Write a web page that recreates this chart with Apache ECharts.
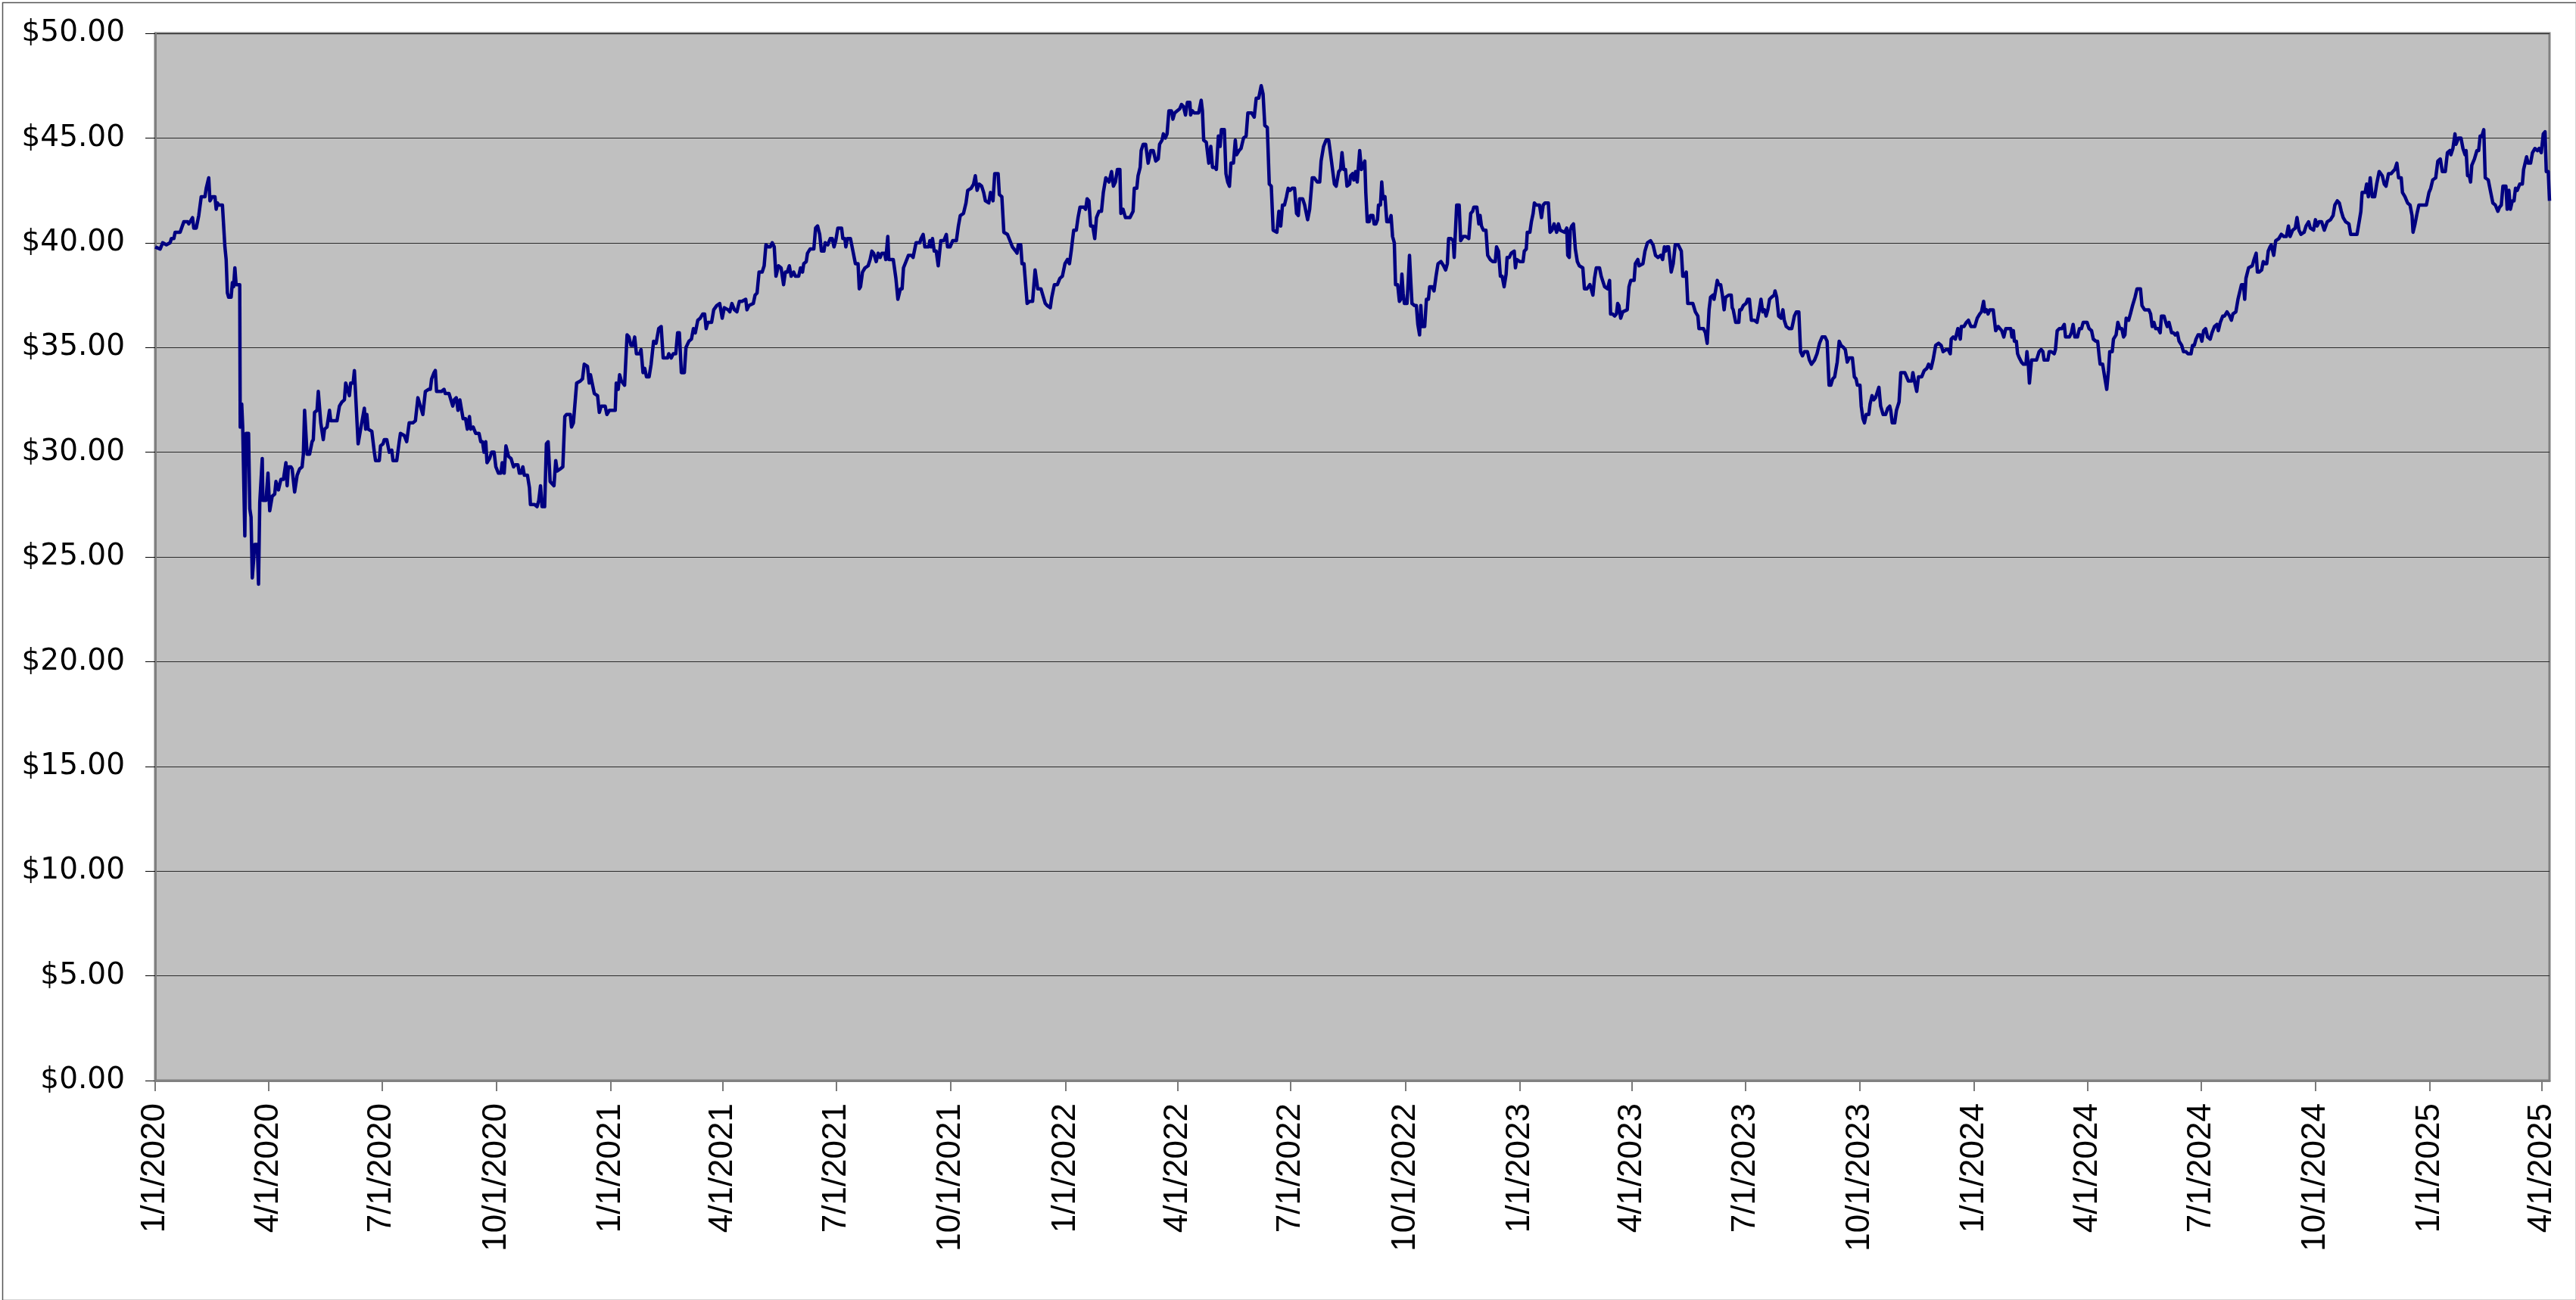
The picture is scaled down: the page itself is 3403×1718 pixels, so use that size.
<!DOCTYPE html>
<html>
<head>
<meta charset="utf-8">
<script src="https://cdn.jsdelivr.net/npm/echarts@6/dist/echarts.min.js"></script>
<style>
  html, body { margin: 0; padding: 0; background: #ffffff; }
  #chart { width: 3403px; height: 1718px; }
</style>
</head>
<body>
<div id="chart"></div>
<script>
// ---- data ----
const startDate = '1/1/2020';   // day 0 of the axis
const lastDay = 1923;           // last trading day shown (4/7/2025)

const tickLabels = ['1/1/2020','4/1/2020','7/1/2020','10/1/2020',
  '1/1/2021','4/1/2021','7/1/2021','10/1/2021',
  '1/1/2022','4/1/2022','7/1/2022','10/1/2022',
  '1/1/2023','4/1/2023','7/1/2023','10/1/2023',
  '1/1/2024','4/1/2024','7/1/2024','10/1/2024',
  '1/1/2025','4/1/2025'];

const yTicks = [0, 5, 10, 15, 20, 25, 30, 35, 40, 45, 50];

// days since 1/1/2020
const dayOffsets = [
  0,4,6,9,12,13,15,16,20,23,
  26,27,30,31,33,35,37,40,41,43,
  44,46,48,49,50,51,54,56,57,58,
  59,61,62,63,64,65,67.9,68.3,69.5,70.3,
  72,73,75,76,77,78,80,82,83,84,
  86,86.5,89,90.6,92,94,96,97,99,101,
  103,105,106,107,109,110,112,114,116,118,
  119,120,122,124,126,127,128,130,131,133,
  135,136,138,140,141,146,148,150,152,153,
  156,157,159,160,163,165,166,168,169,170,
  171,174,175,176,177,180,181,183,184,186,
  188,190,191,194,196,197,200,202,204,207,
  209,211,213,215,217,219.5,221,222,224,225,
  226,230,232,233,236,239,
  240.2,241.8,243.2,244.7,245.9,247.3,249.3,250.7,252.4,253.4,
  254.4,255.4,257.4,260.1,261.5,262.9,264.1,265.5,266.5,268.6,
  270.2,272.2,273.6,275.7,277.7,278.7,280.3,281.7,283.8,285.8,
  287.8,289.2,291.3,292.5,293.9,295.3,296.5,299,300.6,301.4,
  304.7,306.7,308.1,309.5,310.7,312.8,314.2,315.6,317.2,320.3,
  321.7,322.9,325.3,327.4,329,330.4,333.4,334.4,335.9,338.5,
  341.5,343.2,344.6,347.2,348.6,349.6,351.3,352.7,355.3,356.7,
  358.2,361.4,362.8,364.8,369.5,370.3,371.9,373,374.4,377,
  379,380.5,382.1,383.7,385.1,386.5,389.2,390.2,391.8,393.2,
  394.6,396.7,398.3,400.3,402.3,404.4,406.4,408,411.5,412.5,
  414.5,416.1,418.1,419.6,421,422.6,425,426.3,428.7,430.7,
  432.3,433.8,435.8,437.8,439.8,441.3,442.5,443.9,446.9,448.6,
  451,453.4,455.4,457.1,460.1,461.5,463.2,465.2,467.2,469.2,
  471.3,474.3,475.3,476.9,480.4,481.8,483.4,
  485,487.5,489.1,490.5,492.5,494,495.6,497.2,498.6,500.6,
  502.7,504.7,506.1,507.7,509.3,510.8,512.8,514.2,516.8,518.3,
  519.9,520.9,522.9,523.9,526,529,530.4,532,533.7,535.1,
  537.1,538.1,540.2,542.2,543.8,545.2,546.6,548.3,551.3,552.3,
  553.9,554.7,556,558.4,560.4,562.4,564.5,565.5,566.5,568.1,
  570.1,572.6,574.2,575.6,577,579.1,580.7,582.3,583.7,585.8,
  586.8,588.4,589.2,592.8,594.9,596.5,598.5,599.9,601,603,
  605,607.4,608.7,611.1,614.1,615.1,616.8,618.2,621.2,622.2,
  623.2,624.3,625.7,627.3,628.9,631,633.4,635.4,636.4,638.4,
  640.5,643.5,645.1,646.6,649.2,651.2,652.6,655.3,657.3,658.7,
  660.1,661.8,663.8,665.4,666.8,669.5,670.9,672.9,674.3,677,
  678,680,681.6,684.5,686.5,688.5,691.1,692.2,693.2,695.2,
  696.2,697.8,700.3,702.3,704.7,706.7,708.8,711.4,713.4,714.9,
  716.5,718.9,720.1,722.2,724.6,726.6,
  728.6,730.7,732.7,734.3,735.7,737.7,739.8,741.2,742.8,745.9,
  747.3,748.5,749.9,751.3,753,754.6,756,758,760,761.5,
  763.5,766.1,768.1,769.6,771.2,772.8,774.8,775.6,777.3,779.3,
  782.9,785.4,786.4,788.4,789.4,791.1,791.9,793.5,795.5,797.5,
  799.6,801.6,803.6,805.6,806.7,808.7,809.7,811.3,812.7,814.2,
  816.2,817.4,818.8,820.8,822.9,824.3,825.9,827.5,829,831,
  831.6,833,834.4,838.1,840.1,841.1,842.1,844.2,846.2,847.8,
  849.2,851.2,852.3,853.9,855.3,856.3,858.7,860,861.4,862.8,
  864,866,867.5,868.5,870.5,872.1,874.1,876.2,877.6,880.6,
  882.7,884.3,886.3,888.3,889.8,891.2,893.2,894.8,896.4,897.9,
  900.9,902.5,904,905.4,907,908.6,910,911.4,913.1,915.1,
  916.7,918.1,919.1,921.6,923.2,924.2,925.6,927.2,929.3,930.9,
  933.3,935.3,936.4,938.4,940.4,942.5,944.5,945.5,947.1,948.5,
  950.6,952,953.2,954.6,956,957.2,959.3,960.1,961.7,962.7,
  964.1,965.4,967.4,968.8,969.9,
  971.5,972.3,973.5,975,976,978,979,980.4,981.7,982.5,
  984.1,985.1,986.1,987.7,989.2,991.2,992.6,993.8,995.2,996.2,
  997.9,999.3,1000.3,1001.3,1002.3,1003.3,1005.4,1006.4,1007.4,1008.4,
  1009.4,1011.4,1012.9,1014.1,1015.5,1016.5,1017.5,1019.6,1021,1022.6,
  1023.6,1025.6,1027.1,1028.7,1030.3,1032.7,1034.8,1036.4,1037.8,1038.8,
  1040.8,1042.5,1043.3,1044.5,1045.3,1047.3,1048.5,1050.6,1052.6,1055,
  1056.6,1058.1,1059.1,1061.5,1063.1,1064.1,1065.2,1066.8,1068.8,1070.2,
  1072.2,1074.3,1076.3,1077.3,1078.9,1080.4,1081.8,1083.4,1085,1085.8,
  1087.5,1089.1,1091.5,1092.5,1093.5,1096,1098.6,1099.6,1101.2,1102,
  1104.1,1105.3,1106.7,1107.7,1109.3,1111.8,1113.4,1114.8,1116.2,1118.9,
  1120.3,1121.9,1123.5,1125.6,1127,1128.4,1132,1133.7,1134.5,1135.7,
  1136.5,1137.7,1139.1,1140.6,1142.2,1143.8,1146.6,1147.9,1149.9,1152.3,
  1153.3,1154.7,1156,1157.4,1160,1161.4,1162.4,1164.1,1166.5,1168.1,
  1168.9,1170.5,1172.2,1173.6,1174.6,1175.6,1177,1178.7,1182.3,1183.7,
  1185.1,1187.8,1188.8,1190.8,1191.8,1194.9,1196.5,1198.5,1201,1203,
  1205,1207,1209.1,1210.7,1212.1,1213.1,
  1214.1,1215.5,1217.6,1219.2,1220.8,1223.2,1225.7,1226.9,1228.3,1229.7,
  1230.9,1232.4,1235,1237,1239,1239.9,1243.5,1245.1,1246.5,1248,
  1249.2,1251.2,1252,1253.2,1254.6,1255.7,1257.3,1258.7,1260.1,1261.3,
  1263.8,1265.8,1266.6,1267.4,1269.4,1271.9,1272.6,1273.9,1275.5,1277.6,
  1279,1280.4,1282,1284.4,1286.5,1288.1,1289.7,1291.1,1292.5,1293.8,
  1295.2,1296.6,1298.2,1300.3,1301,1302.3,1303.9,1305.9,1307.3,1308.4,
  1310,1312.4,1314.4,1315.5,1316.5,1318.1,1320.1,1321.5,1323,1324.6,
  1327,1328.6,1330.2,1332.7,1334.7,1336.7,1338.8,1341.2,1342.8,1344.4,
  1345.8,1347.3,1348.9,1350.9,1352.5,1354,1356,1357.4,1359,1360.6,
  1363.1,1364.7,1366.1,1367.1,1369.2,1370.2,1371.6,1372.8,1374.2,1376.3,
  1377.3,1378.9,1380.3,1381.7,1382.9,1384.4,1385.8,1387.8,1389.8,1391.5,
  1393.1,1393.9,1395.1,1397.1,1398.5,1400.6,1402,1403.6,1405.2,1408.1,
  1410.7,1411.7,1413.3,1414.8,1416.2,1418.8,1420.8,1422.9,1424.3,1426.3,
  1427.9,1430,1432.4,1434.4,1436,1438.5,1440.1,1441.7,1442.5,1444.1,
  1445.8,1447.8,1449.8,1450.6,1452.7,1454.7,1456.3,
  1458.3,1461.4,1463.4,1465.4,1466.8,1468.5,1469.5,1470.9,1472.1,1473.5,
  1476.2,1478.2,1480.2,1481.6,1483.1,1484.7,1486.3,1488.7,1490.3,1491.2,
  1492.4,1493.2,1494.8,1495.8,1497.2,1498.9,1500.5,1502.5,1503.3,1504.5,
  1505.3,1507,1509.4,1511,1513.1,1514.7,1516.1,1517.1,1520.1,1521.2,
  1522.8,1525.2,1526.2,1527.6,1529.3,1531.3,1533.3,1534.3,1537.4,1539,
  1540.4,1541.8,1543.9,1545.5,1547.1,1548.5,1551.6,1553.2,1555.2,1556.6,
  1558.7,1560.1,1561.3,1562.1,1564.1,1565.7,1567.4,1568.8,1569.8,1571.8,
  1572.8,1574.9,1576.3,1577.9,1579.5,1580.9,1582,1583,1585,1586.4,
  1588.1,1590.1,1591.7,1594.5,1595.7,1597.8,1601.2,1602.6,1603.9,1605.3,
  1606.7,1608.7,1610.3,1611.3,1613.4,1614.8,1616,1617.4,1618.4,1619.5,
  1620.9,1622.5,1624.1,1625.5,1627.6,1629,1631,1632.6,1635.1,1636.3,
  1637.7,1639.1,1640.7,1642.4,1643.8,1645.2,1646.8,1648.4,1650.5,1651.9,
  1653.9,1655.9,1657,1658.6,1660.6,1662,1664,1666.1,1667.5,1668.7,
  1671.1,1672.8,1674.8,1675.6,1677.2,1678.2,1679.2,1681.3,1684.3,1685.7,
  1687.4,1688.4,1689.8,1691.8,1693.1,1694.5,1695.9,1697.1,1698.5,1699.5,
  1701.5,1703.1,1705.6,1707.6,1709.6,1711.7,1713.3,1714.7,1716.7,1718.8,
  1720.2,1721.8,1723.4,1725.9,1727.5,1729.5,1730.9,1733.5,1735,1736.4,
  1738,1740,1742.1,1744.5,1747.1,1749.2,1750.6,1752.6,1754.2,1755.8,
  1757.3,1759.3,1761.9,1763.3,1765.4,1768.4,1770.4,1771.5,1772.5,1774.9,
  1776.1,1777.5,1779,1780.6,1782.6,1784.2,1786.2,1788.7,1790.3,1791.7,
  1793.7,1795.8,1797.2,1798.8,1800.4,1801.8,1803.9,1804.9,1806.9,1809,
  1811,1812.6,1813.4,1815,1816.6,1818.1,1820.7,1824.1,1826.2,1827.6,
  1829.2,1831.6,1833.3,1835.3,1836.9,1839.3,1841,1843,1843.8,1845.4,
  1847.1,1847.9,1849.9,1851.9,1853.5,1855.2,1856,1857.2,1858.6,1859.6,
  1860.6,1862.7,1864.7,1866.1,1867.3,1868.7,1870.2,1871.4,1873.8,1875.8,
  1877.5,1879.5,1881.5,1882.9,1884.3,1885.6,1888,1889,1890.4,1891.6,
  1893.1,1894.5,1895.7,1897.1,1899.1,1901.2,1902.2,1903.2,1904.6,1905.8,
  1907.8,1909.3,1911.3,1913.3,1914.7,1916.4,1918,1919.4,1920.4,1922,
  1923
];

// closing price, $
const closePrices = [
  39.8,39.7,40.0,39.9,40.0,40.2,40.2,40.5,40.5,41.0,
  41.0,40.9,41.2,40.7,40.7,41.3,42.2,42.2,42.6,43.1,
  42.0,42.2,42.2,41.6,41.9,41.8,41.8,39.8,39.2,37.6,
  37.4,37.4,38.1,37.9,38.8,38.0,38.0,31.2,32.3,31.2,
  26.0,30.9,30.9,27.3,26.9,24.0,25.6,25.6,23.7,27.6,
  29.7,27.7,27.7,29.0,27.2,27.9,28.0,28.6,28.2,28.7,
  28.7,29.5,28.4,29.3,29.3,29.2,28.1,28.9,29.2,29.3,
  29.9,32.0,29.9,29.9,30.5,30.6,31.9,32.0,32.9,31.4,
  30.6,31.1,31.2,32.0,31.5,31.5,32.2,32.4,32.5,33.3,
  32.7,33.3,33.3,33.9,30.4,31.1,31.1,32.1,31.1,31.8,
  31.1,31.0,30.5,30.0,29.6,29.6,30.3,30.4,30.6,30.6,
  30.0,30.1,29.6,29.6,30.5,30.9,30.8,30.5,31.4,31.4,
  31.5,32.6,32.2,31.8,32.9,33.0,33.0,33.5,33.8,33.9,
  32.9,32.9,33.0,32.8,32.8,32.2,
  32.5,32.6,32.0,32.5,32.5,31.6,31.6,31.1,31.7,31.1,
  31.1,31.2,30.9,30.9,30.5,30.5,30.0,30.5,29.5,29.7,
  30.0,30.0,29.3,29.0,29.0,29.5,29.0,30.3,29.8,29.7,
  29.3,29.4,29.4,29.0,29.0,29.3,28.9,28.9,28.3,27.5,
  27.5,27.4,27.7,28.4,27.4,27.4,30.4,30.5,28.6,28.4,
  29.6,29.1,29.2,29.3,31.7,31.8,31.8,31.2,31.4,33.3,
  33.4,33.5,34.2,34.1,33.3,33.7,33.2,32.8,32.7,31.9,
  32.2,32.2,31.8,32.0,32.0,33.3,33.0,33.7,33.4,33.2,
  35.6,35.5,35.1,35.1,35.5,34.7,34.7,34.9,33.8,34.0,
  33.6,33.6,34.2,35.3,35.2,35.9,36.0,34.5,34.5,34.7,
  34.5,34.7,34.7,35.7,35.7,33.8,33.8,35.0,35.3,35.4,
  35.9,35.7,36.3,36.4,36.6,36.6,35.9,36.2,36.2,36.8,
  37.0,37.1,36.4,36.9,36.8,36.7,37.1,36.8,36.7,37.2,
  37.2,37.3,36.8,37.0,37.1,37.5,37.6,
  38.6,38.6,38.9,39.9,39.8,39.8,40.0,39.8,38.4,38.9,
  38.8,38.0,38.6,38.6,38.9,38.4,38.6,38.4,38.4,38.8,
  38.6,39.0,39.1,39.5,39.7,39.7,40.7,40.8,40.4,39.6,
  39.6,40.0,39.9,40.2,40.2,39.8,40.1,40.7,40.7,40.2,
  40.2,39.8,40.2,40.2,39.6,39.0,39.0,37.8,37.9,38.6,
  38.8,38.9,39.2,39.6,39.5,39.1,39.5,39.3,39.5,39.5,
  39.2,40.3,39.2,39.2,38.3,37.3,37.8,37.8,38.8,39.1,
  39.4,39.4,39.3,40.0,40.0,40.2,40.4,39.8,39.8,40.1,
  39.8,40.2,39.6,39.6,38.9,40.1,40.1,40.4,39.8,39.8,
  40.1,40.1,40.8,41.3,41.4,41.9,42.5,42.6,42.8,43.2,
  42.5,42.8,42.7,42.4,42.0,41.9,42.4,42.0,43.3,43.3,
  42.3,42.2,40.5,40.4,40.1,39.8,39.6,39.5,39.9,39.9,
  39.0,39.0,37.1,37.2,37.2,38.7,37.8,37.8,37.4,37.1,
  37.0,36.9,37.4,38.0,38.0,38.3,
  38.4,39.0,39.2,39.0,39.6,40.6,40.6,41.2,41.7,41.7,
  41.6,42.1,42.0,40.8,40.8,40.2,41.2,41.5,41.5,42.4,
  43.1,42.9,43.4,42.7,42.9,43.5,43.5,41.4,41.6,41.2,
  41.2,41.5,42.6,42.6,43.2,43.6,44.4,44.7,44.7,43.8,
  44.4,44.4,43.9,44.0,44.7,44.9,45.2,45.0,45.2,46.3,
  46.3,45.9,46.2,46.3,46.4,46.6,46.5,46.1,46.7,46.7,
  46.1,46.3,46.2,46.2,46.8,46.3,44.9,44.8,43.8,44.6,
  43.6,43.6,43.5,45.1,44.6,45.4,45.4,43.3,42.9,42.7,
  43.8,43.8,44.9,44.2,44.4,44.5,45.0,45.1,46.2,46.2,
  46.0,46.9,46.9,47.5,47.1,45.6,45.5,42.8,42.7,40.6,
  40.5,41.5,40.8,41.8,41.8,42.2,42.6,42.5,42.6,42.6,
  41.4,41.3,42.1,42.1,41.8,41.5,41.1,41.6,43.1,43.1,
  42.9,42.9,43.9,44.6,44.9,44.9,44.0,44.0,42.8,42.7,
  43.4,43.5,44.3,43.5,43.5,42.7,42.8,43.2,43.3,43.0,
  43.4,42.9,44.4,43.5,43.5,
  43.9,42.4,41.0,41.0,41.3,41.3,40.9,40.9,41.1,41.8,
  41.8,42.9,42.1,42.2,41.0,41.0,41.3,40.3,40.0,38.0,
  38.0,37.2,37.3,38.5,37.6,37.1,37.1,38.2,39.4,38.2,
  37.1,37.0,37.0,36.1,35.6,37.0,36.0,36.0,37.3,37.3,
  37.9,37.9,37.7,38.4,39.0,39.1,38.9,38.7,39.0,40.2,
  40.2,40.1,39.3,40.8,41.8,41.8,40.1,40.3,40.3,40.2,
  41.4,41.5,41.7,41.7,40.9,41.3,40.8,40.6,40.6,39.4,
  39.2,39.1,39.1,39.8,39.6,38.4,38.4,37.9,38.5,39.3,
  39.3,39.5,39.6,38.8,39.2,39.1,39.1,39.6,39.7,40.5,
  40.5,41.0,41.4,41.9,41.8,41.8,41.2,41.8,41.9,41.9,
  40.5,40.6,40.9,40.5,40.9,40.6,40.5,40.7,39.4,39.3,
  40.6,40.8,40.9,39.7,39.1,38.9,38.8,37.8,37.8,38.0,
  37.8,37.5,38.3,38.8,38.8,38.4,38.4,37.9,37.8,38.2,
  36.6,36.6,36.5,36.6,37.1,37.0,36.4,36.7,36.8,37.9,
  38.2,38.2,39.0,39.2,38.9,39.0,39.6,40.0,40.1,39.9,
  39.4,39.3,39.4,39.2,39.8,39.6,
  39.8,39.8,38.6,39.0,39.9,39.9,39.6,38.4,38.4,38.6,
  37.1,37.1,37.1,36.7,36.5,35.9,35.9,35.7,35.2,36.8,
  37.4,37.5,37.3,37.7,38.2,38.0,38.0,37.5,36.8,37.4,
  37.5,37.5,36.9,36.8,36.2,36.2,36.8,36.8,37.0,37.1,
  37.3,37.3,36.3,36.3,36.2,36.7,37.3,36.7,36.8,36.5,
  36.8,37.3,37.4,37.5,37.7,37.4,36.5,36.4,36.8,36.3,
  36.0,35.9,35.9,36.2,36.5,36.7,36.7,34.8,34.6,34.8,
  34.8,34.4,34.2,34.4,34.7,35.2,35.5,35.5,35.3,33.2,
  33.2,33.5,33.6,34.3,35.3,35.1,35.0,34.9,34.3,34.5,
  34.5,33.6,33.5,33.2,33.2,32.2,31.6,31.4,31.8,31.8,
  32.3,32.7,32.5,32.6,32.6,33.1,32.2,31.8,31.8,32.1,
  32.2,32.0,31.4,31.4,32.0,32.4,33.8,33.8,33.8,33.4,
  33.4,33.8,33.3,32.9,33.6,33.6,33.9,34.0,34.2,34.0,
  34.4,35.1,35.2,35.1,34.8,34.9,34.9,34.7,35.4,35.5,
  35.4,35.9,35.4,36.0,36.0,36.2,36.3,
  36.0,36.0,36.4,36.6,36.7,37.2,36.7,36.8,36.6,36.8,
  36.8,35.8,36.0,35.9,35.8,35.5,35.9,35.9,35.9,35.5,
  35.8,35.3,35.3,34.7,34.5,34.3,34.2,34.2,34.8,34.1,
  33.3,34.4,34.4,34.4,34.8,34.9,34.8,34.4,34.4,34.8,
  34.8,34.7,34.9,35.8,35.9,35.9,36.1,35.5,35.5,35.7,
  36.1,35.5,35.5,35.9,35.9,36.2,36.2,35.9,35.8,35.4,
  35.3,35.3,34.6,34.2,34.2,33.6,33.0,33.9,34.8,34.8,
  35.4,35.6,36.2,35.9,35.9,35.5,35.6,36.4,36.3,36.6,
  37.0,37.4,37.8,37.8,37.0,36.8,36.8,36.6,36.0,36.2,
  35.9,35.9,35.7,36.5,36.5,36.2,36.0,36.2,36.2,35.7,
  35.7,35.6,35.7,35.3,35.1,34.8,34.8,34.7,34.7,35.1,
  35.1,35.4,35.6,35.6,35.3,35.8,35.9,35.5,35.4,35.7,
  36.0,36.1,35.8,36.2,36.5,36.5,36.7,36.5,36.3,36.6,
  36.7,37.3,37.8,38.0,38.0,37.3,38.3,38.8,38.9,39.2,
  39.5,38.6,38.6,38.7,39.1,39.0,39.0,39.6,39.8,39.9,
  39.4,40.1,40.2,40.4,40.3,40.3,40.8,40.3,40.6,40.7,
  41.2,40.6,40.4,40.5,40.8,41.0,40.7,40.6,41.1,40.8,
  41.0,41.0,40.6,41.0,41.1,41.3,41.8,42.0,41.9,41.5,
  41.2,41.0,40.9,40.4,40.4,40.4,41.1,41.5,42.4,42.4,
  42.8,42.2,43.1,42.2,42.2,42.8,43.4,43.2,42.8,42.7,
  43.3,43.3,43.4,43.5,43.8,43.1,43.1,42.4,42.2,41.9,
  41.8,41.3,40.5,40.9,41.4,41.8,41.8,41.8,42.4,42.6,
  43.0,43.1,43.9,44.0,43.4,43.4,44.3,44.4,44.2,44.5,
  45.2,44.7,45.0,45.0,44.5,44.2,44.4,43.2,43.2,42.9,
  43.7,44.0,44.4,44.4,45.1,45.1,45.4,43.1,43.0,42.4,
  41.9,41.8,41.5,41.7,41.8,42.7,42.7,41.6,42.5,41.6,
  42.0,42.0,42.6,42.5,42.8,42.8,43.5,43.5,44.1,43.8,
  43.8,44.3,44.5,44.4,44.5,44.3,45.2,45.3,43.4,43.4,
  42.0
];

// ---- build ----
function parseMDY(s) {
  const p = s.split('/').map(Number);
  return Date.UTC(p[2], p[0] - 1, p[1]);
}
const DAY = 86400000;
const t0 = parseMDY(startDate);
const tickDays = tickLabels.map(s => Math.round((parseMDY(s) - t0) / DAY));
const labelByDay = {};
tickDays.forEach((d, i) => { labelByDay[d] = tickLabels[i]; });

const n = Math.min(dayOffsets.length, closePrices.length);
const seriesData = [];
for (let i = 0; i < n; i++) seriesData.push([dayOffsets[i], closePrices[i]]);

const chart = echarts.init(document.getElementById('chart'), null, { renderer: 'canvas' });
chart.setOption({
  animation: false,
  backgroundColor: '#ffffff',
  grid: {
    left: 205, right: 35, top: 44, bottom: 290,
    show: true,
    backgroundColor: '#c0c0c0',
    borderColor: '#808080',
    borderWidth: 3
  },
  xAxis: {
    type: 'value',
    min: 0,
    max: lastDay,
    splitLine: { show: false },
    axisLine: { show: true, onZero: false, lineStyle: { color: '#808080', width: 3 } },
    axisTick: { show: true, length: 14, lineStyle: { color: '#7a7a7a', width: 2 }, customValues: tickDays },
    axisLabel: {
      customValues: tickDays,
      rotate: 90,
      margin: 30,
      color: '#000000',
      fontFamily: 'Liberation Sans',
      fontSize: 44,
      formatter: v => labelByDay[Math.round(v)] || ''
    }
  },
  yAxis: {
    type: 'value',
    min: yTicks[0],
    max: yTicks[yTicks.length - 1],
    interval: 5,
    axisLine: { show: true, lineStyle: { color: '#808080', width: 3 } },
    axisTick: { show: true, length: 13, lineStyle: { color: '#000000', width: 1 } },
    axisLabel: {
      margin: 40,
      color: '#000000',
      fontFamily: 'DejaVu Sans',
      fontSize: 39,
      formatter: v => '$' + v.toFixed(2)
    },
    splitLine: { show: true, lineStyle: { color: '#2a2a2a', width: 1.2 } }
  },
  series: [{
    type: 'line',
    data: seriesData,
    showSymbol: false,
    symbol: 'none',
    smooth: false,
    sampling: null,
    lineStyle: { color: '#000080', width: 4.5, join: 'round' },
    silent: true
  }],
  graphic: [{
    type: 'rect',
    left: 1, top: 1,
    shape: { width: 3400, height: 1715 },
    style: { fill: 'none', stroke: '#555555', lineWidth: 1.5 },
    silent: true
  }]
});
</script>
</body>
</html>
